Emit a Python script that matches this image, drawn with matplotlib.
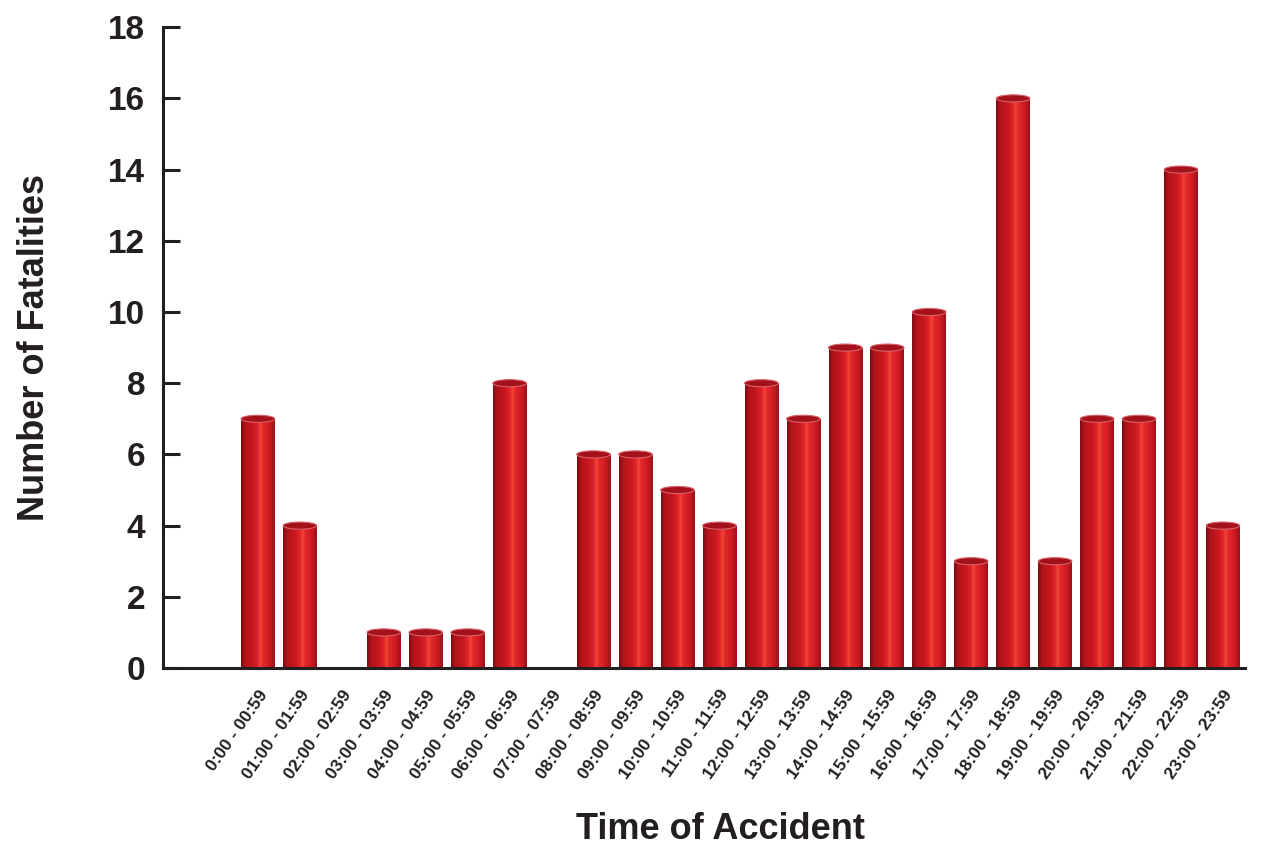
import numpy as np
import matplotlib
matplotlib.use("Agg")
import matplotlib.pyplot as plt
from matplotlib.patches import Ellipse
from matplotlib.colors import LinearSegmentedColormap
from matplotlib import font_manager

# Hourly fatality counts
hours = ["0:00 - 00:59", "01:00 - 01:59", "02:00 - 02:59", "03:00 - 03:59",
         "04:00 - 04:59", "05:00 - 05:59", "06:00 - 06:59", "07:00 - 07:59",
         "08:00 - 08:59", "09:00 - 09:59", "10:00 - 10:59", "11:00 - 11:59",
         "12:00 - 12:59", "13:00 - 13:59", "14:00 - 14:59", "15:00 - 15:59",
         "16:00 - 16:59", "17:00 - 17:59", "18:00 - 18:59", "19:00 - 19:59",
         "20:00 - 20:59", "21:00 - 21:59", "22:00 - 22:59", "23:00 - 23:59"]
fatalities = [7, 4, 0, 1, 1, 1, 8, 0, 6, 6, 5, 4, 8, 7, 9, 9, 10, 3, 16, 3, 7, 7, 14, 4]
y_ticks = [0, 2, 4, 6, 8, 10, 12, 14, 16, 18]

installed = {f.name for f in font_manager.fontManager.ttflist}
family = ["Liberation Sans Narrow", "Liberation Sans", "DejaVu Sans"]
family = [f for f in family if f in installed] or ["DejaVu Sans"]
plt.rcParams["font.family"] = family
plt.rcParams["font.weight"] = "bold"

ink = "#231f20"

fig = plt.figure(figsize=(12.65, 8.5), dpi=100)
ax = fig.add_axes([0.1289, 0.2141, 0.8551, 0.7539])

x = np.arange(len(hours))
width = 0.8
xmin, xmax = -2.26, 23.52
ymin, ymax = 0, 18

# Cylinder shading across each bar
cyl = LinearSegmentedColormap.from_list("cyl", [
    (0.00, "#7d0c12"), (0.12, "#b0141b"), (0.35, "#c8171e"),
    (0.50, "#e1232a"), (0.58, "#f24a35"), (0.64, "#e52a2c"),
    (0.85, "#cc1a21"), (1.00, "#9a1118")])
grad = np.linspace(0, 1, 256).reshape(1, -1)

bars = ax.bar(x, fatalities, width=width, color="none", edgecolor="none")
cap_h = 0.2
for xi, v, b in zip(x, fatalities, bars):
    if v <= 0:
        continue
    im = ax.imshow(grad, cmap=cyl, aspect="auto", interpolation="bicubic",
                   extent=(xi - width / 2, xi + width / 2, 0, v), zorder=2)
    im.set_clip_path(b)
    # bottom rim
    ax.add_patch(Ellipse((xi, 0), width, cap_h, facecolor="#b8161d",
                         edgecolor="none", zorder=1.9))
    # top cap
    ax.add_patch(Ellipse((xi, v), width, cap_h, facecolor="#a3121a",
                         edgecolor="#d9606a", linewidth=0.8, zorder=3))

ax.set_xlim(xmin, xmax)
ax.set_ylim(ymin, ymax)

for side in ("top", "right"):
    ax.spines[side].set_visible(False)
for side in ("left", "bottom"):
    ax.spines[side].set_linewidth(2.2)
    ax.spines[side].set_color(ink)

ax.set_yticks(y_ticks)
ax.set_yticklabels([str(t) for t in y_ticks], fontsize=24, fontweight="bold",
                   color=ink)
ax.tick_params(axis="y", direction="in", length=12, width=2.2, pad=13,
               color=ink)

ax.set_xticks(x)
ax.set_xticklabels(hours, rotation=55, ha="right", rotation_mode="anchor",
                   fontsize=12.5, fontweight="bold", color=ink)
ax.tick_params(axis="x", length=0, pad=14)

ax.set_ylabel("Number of Fatalities", fontsize=26, fontweight="bold",
              color=ink, labelpad=40)
ax.set_xlabel("Time of Accident", fontsize=26, fontweight="bold",
              color=ink, labelpad=26)
ax.xaxis.set_label_coords(0.515, -0.225)

fig.savefig("out.png", dpi=100, facecolor="white")
